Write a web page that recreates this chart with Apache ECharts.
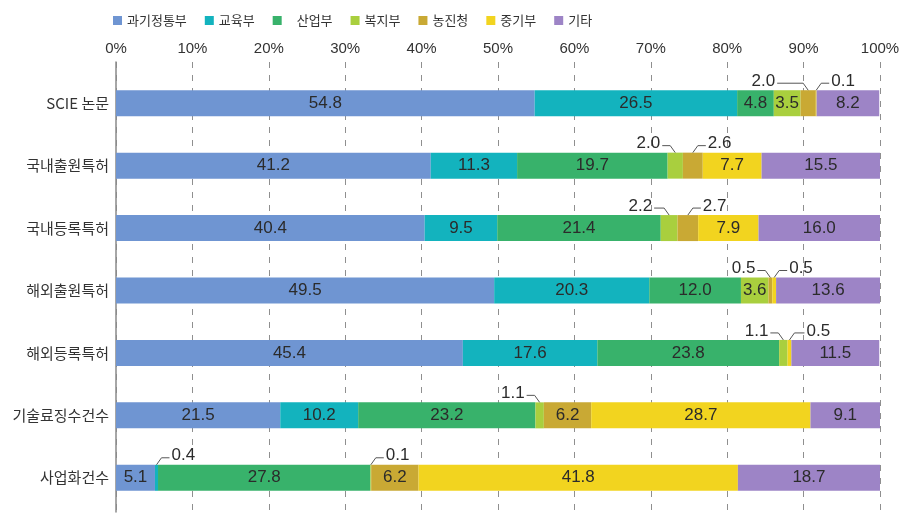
<!DOCTYPE html>
<html><head><meta charset="utf-8">
<script src="https://cdn.jsdelivr.net/npm/echarts@6/dist/echarts.min.js"></script>
<style>html,body{margin:0;padding:0;background:#fff}#c{width:908px;height:528px}</style>
</head><body><div id="c"></div><script>
// ---- data ----
const categories = ['SCIE 논문','국내출원특허','국내등록특허','해외출원특허','해외등록특허','기술료징수건수','사업화건수'];
const seriesNames = ['과기정통부','교육부','산업부','복지부','농진청','중기부','기타'];
const msit  = [54.8, 41.2, 40.4, 49.5, 45.4, 21.5, 5.1];
const moe   = [26.5, 11.3,  9.5, 20.3, 17.6, 10.2, 0.4];
const motie = [ 4.8, 19.7, 21.4, 12.0, 23.8, 23.2, 27.8];
const mohw  = [ 3.5,  2.0,  2.2,  3.6,  1.1,  1.1, 0.1];
const rda   = [ 2.0,  2.6,  2.7,  0.5,  0.0,  6.2, 6.2];
const mss   = [ 0.1,  7.7,  7.9,  0.5,  0.5, 28.7, 41.8];
const etc   = [ 8.2, 15.5, 16.0, 13.6, 11.5,  9.1, 18.7];
const xTickLabels = ['0%','10%','20%','30%','40%','50%','60%','70%','80%','90%','100%'];

// ---- styling / layout ----
const colors = ['#6f95d2','#13b3be','#38b26b','#a9cf3e','#c9a934','#f2d41f','#9d84c6'];
const allSeries = [msit, moe, motie, mohw, rda, mss, etc];
const NUM_FONT = '"Liberation Sans Narrow","Liberation Sans",Arial,sans-serif';
const KR_FONT = '"Noto Sans CJK KR","Noto Sans",sans-serif';
// callouts for small segments: [row, seriesIndex, side(-1 left / 1 right), horizontal length]
const callouts = [
  [0,4,-1,26],[0,5,1,8],
  [1,3,-1,8],[1,4,1,8],
  [2,3,-1,10],[2,4,1,8],
  [3,4,-1,8],[3,5,1,8],
  [4,3,-1,8],[4,5,1,10],
  [5,3,-1,8],
  [6,1,1,8],[6,3,1,8]
];
const calloutData = callouts.map(([r,s,side,len]) => {
  let start = 0;
  for (let k = 0; k < s; k++) start += allSeries[k][r];
  const v = allSeries[s][r];
  return [start + v/2, r, v, side, len];
});

const chart = echarts.init(document.getElementById('c'));
const barSeries = seriesNames.map((name, i) => ({
  name, type:'bar', stack:'total', barWidth:26,
  xAxisIndex:0, yAxisIndex:0,
  itemStyle:{color:colors[i]},
  label:{show:true, position:'inside', color:'#2b2b2b', fontSize:17, fontFamily:NUM_FONT,
    formatter: p => p.value >= 3 ? p.value.toFixed(1) : ''},
  data: allSeries[i]
}));

chart.setOption({
  animation:false,
  color: colors,
  legend:{
    left:108, top:9, itemWidth:9, itemHeight:9, itemGap:18, icon:'rect',
    textStyle:{fontSize:13, color:'#333', fontFamily:KR_FONT},
    data: seriesNames.map(n => n === '산업부' ? {name:n, textStyle:{padding:[0,0,0,10]}} : n)
  },
  grid:[
    {left:116, right:28, top:72, bottom:19},
    {left:116, right:28, top:62, bottom:16}
  ],
  xAxis:[
    {gridIndex:0, type:'value', position:'top', min:0, max:100, interval:10,
      axisLine:{show:false}, axisTick:{show:false}, splitLine:{show:false},
      axisLabel:{margin:16, fontSize:15, color:'#333', fontFamily:'"Liberation Sans",Arial,sans-serif',
        formatter: v => xTickLabels[Math.round(v/10)]}},
    {gridIndex:1, type:'value', min:0, max:100, interval:10,
      axisLine:{show:false}, axisTick:{show:false}, axisLabel:{show:false},
      splitLine:{show:true, lineStyle:{color:'#8f8f8f', type:[6,7], width:1}}}
  ],
  yAxis:[
    {gridIndex:0, type:'category', data:categories, inverse:true,
      axisLine:{show:false}, axisTick:{show:false}, splitLine:{show:false},
      axisLabel:{margin:7, fontSize:15, color:'#333', fontFamily:KR_FONT}},
    {gridIndex:1, type:'value', min:0, max:1,
      axisLine:{show:true, lineStyle:{color:'#8a8a8a', width:1.5}},
      axisTick:{show:false}, axisLabel:{show:false}, splitLine:{show:false}}
  ],
  series: barSeries.concat([{
    type:'custom', xAxisIndex:0, yAxisIndex:0, z:10, clip:false,
    encode:{x:0, y:1},
    data: calloutData,
    renderItem(params, api){
      const cx = api.value(0), row = api.value(1), v = api.value(2), dir = api.value(3), len = api.value(4);
      const p = api.coord([cx, row]);
      const top = p[1] - 13;
      const x0 = p[0], x1 = x0 + dir*5, x2 = x1 + dir*len;
      return {type:'group', children:[
        {type:'polyline', shape:{points:[[x0,top],[x1,top-7],[x2,top-7]]},
          style:{stroke:'#555', lineWidth:1, fill:null}},
        {type:'text', style:{text:v.toFixed(1), x:x2 + dir*2, y:top-9,
          align: dir < 0 ? 'right' : 'left', verticalAlign:'middle',
          fontSize:17, fontFamily:NUM_FONT, fill:'#2b2b2b'}}
      ]};
    }
  }])
});
</script></body></html>
